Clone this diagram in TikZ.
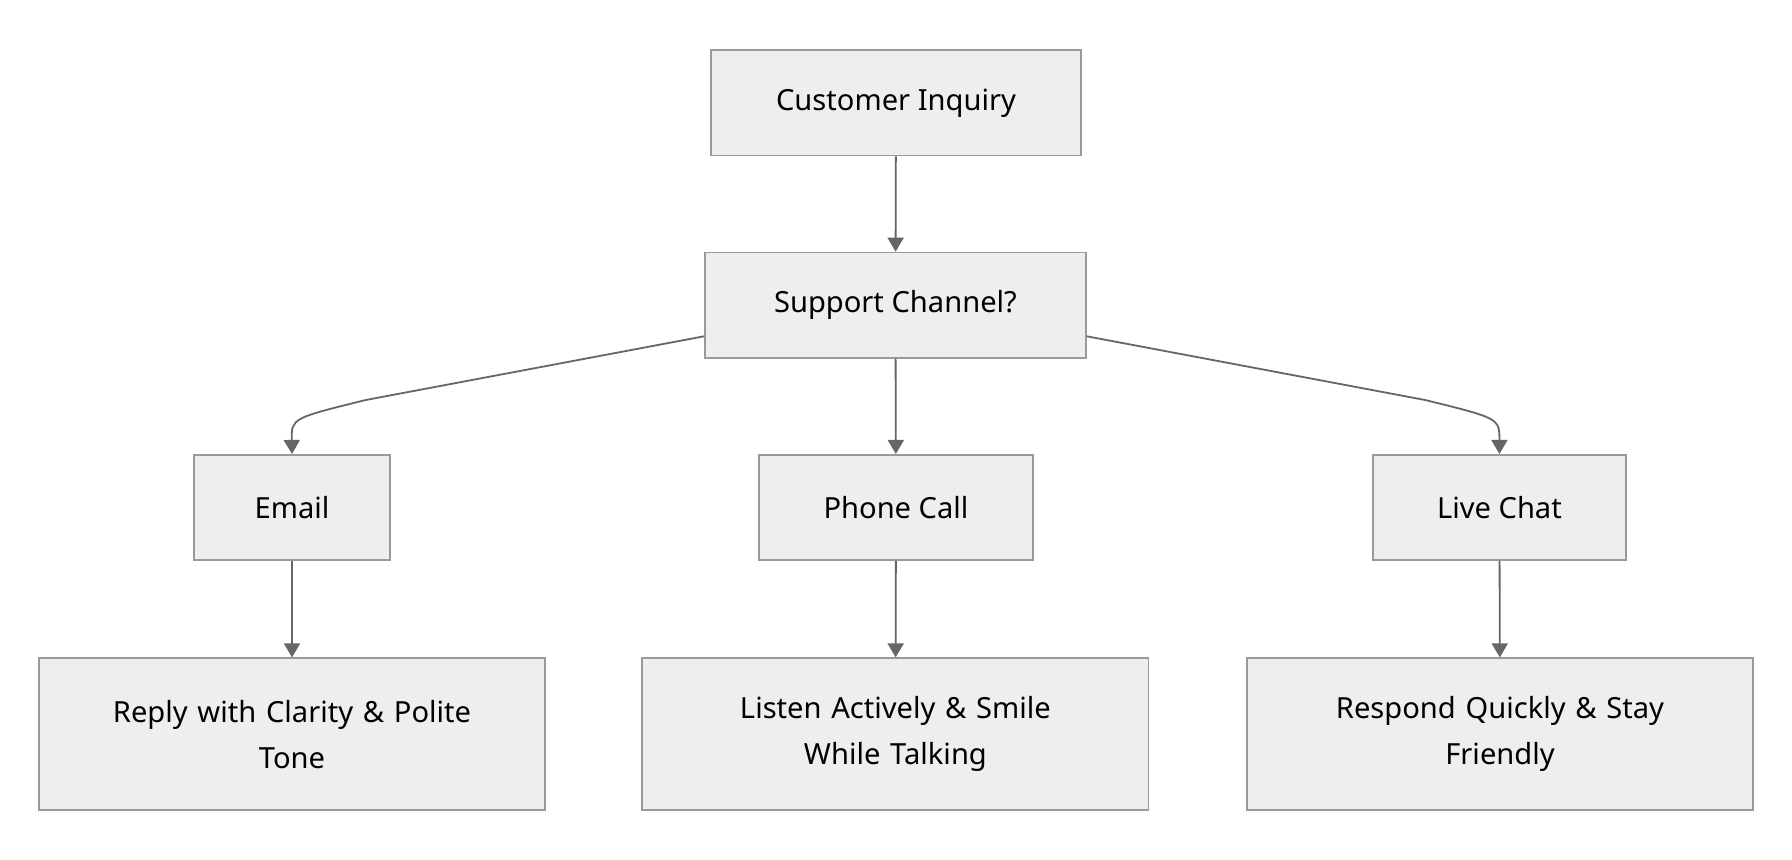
\documentclass[tikz,border=0pt]{standalone}
\usepackage{fontspec}
\setmainfont{Noto Sans}
\usetikzlibrary{arrows.meta,calc}
\definecolor{bx}{HTML}{EEEEEE}
\definecolor{bd}{HTML}{999999}
\definecolor{ar}{HTML}{666666}
\begin{document}
\begin{tikzpicture}[x=0.02cm,y=-0.02cm,
 box/.style={draw=bd,fill=bx,line width=0.9pt,minimum height=1.84cm,align=center,font=\fontsize{14.5}{23}\selectfont,inner sep=0pt},
 big/.style={box,minimum height=2.66cm,text width=7.2cm},
 arr/.style={draw=ar,line width=0.9pt,-{Triangle[length=7pt,width=8pt]}}]
\useasboundingbox (0,0) rectangle (1568,752);
\node[box,minimum width=6.48cm] (ci) at (784,90) {Customer Inquiry};
\node[box,minimum width=6.66cm] (sc) at (783.5,267) {Support Channel?};
\node[box,minimum width=3.42cm] (em) at (255.5,444) {Email};
\node[box,minimum width=4.8cm] (ph) at (784,444) {Phone Call};
\node[box,minimum width=4.44cm] (lc) at (1312,444) {Live Chat};
\node[big,minimum width=8.86cm] (r1) at (255.5,642.5) {Reply with Clarity \& Polite\\Tone};
\node[big,minimum width=8.86cm] (r2) at (783.5,642.5) {Listen Actively \& Smile\\While Talking};
\node[big,minimum width=8.86cm] (r3) at (1312.5,642.5) {Respond Quickly \& Stay\\Friendly};
\coordinate (sl) at ($(sc.north west)+(0,74)$);
\coordinate (sr) at ($(sc.north east)+(0,74)$);
\draw[arr] (ci) -- (sc);
\draw[arr] (sc) -- (ph);
\draw[arr] (sl) -- (320,350) .. controls (255,366) .. (em.north);
\draw[arr] (sr) -- (1247,350) .. controls (1312,366) .. (lc.north);
\draw[arr] (em) -- (r1);
\draw[arr] (ph) -- (r2);
\draw[arr] (lc) -- (r3);
\end{tikzpicture}
\end{document}
